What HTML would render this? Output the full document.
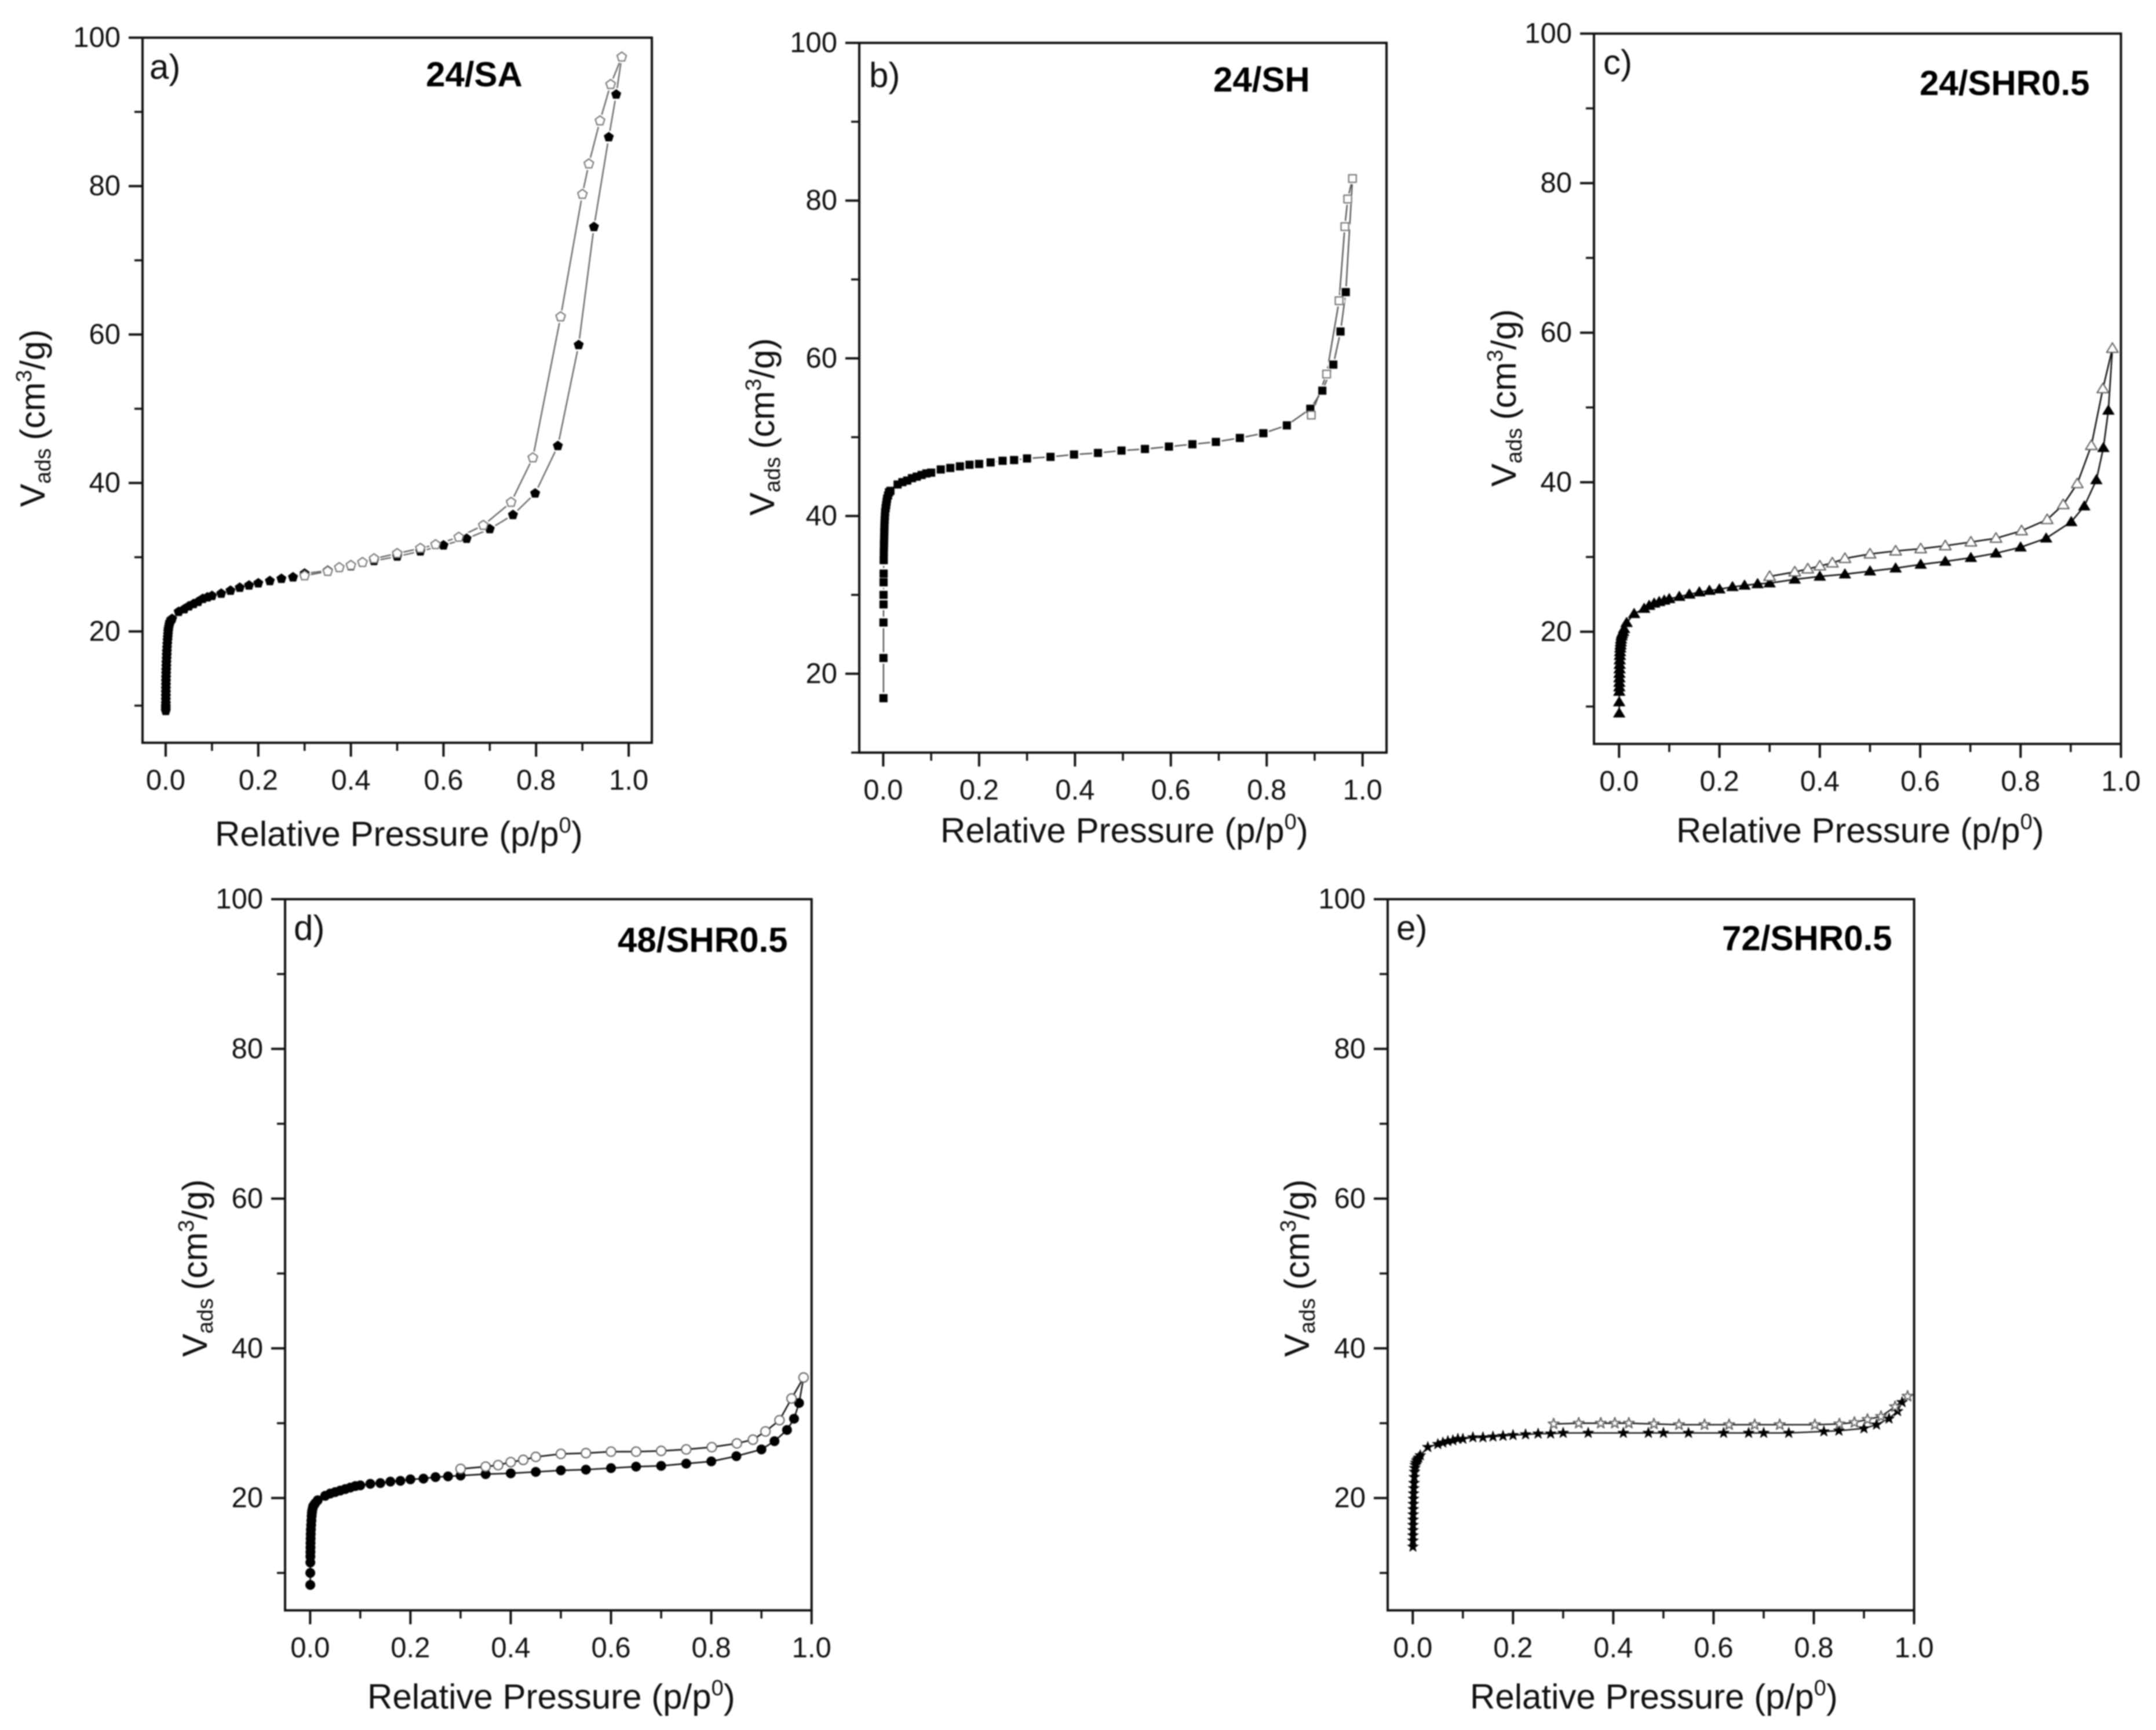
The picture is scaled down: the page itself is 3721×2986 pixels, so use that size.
<!DOCTYPE html>
<html lang="en">
<head>
<meta charset="utf-8">
<title>Nitrogen adsorption isotherms</title>
<style>
html,body{margin:0;padding:0;background:#fff;width:3721px;height:2986px;overflow:hidden}
svg{display:block;filter:blur(1px)}
text{font-family:"Liberation Sans",sans-serif;fill:#111}
.tick{font-size:49px}
.axt{font-size:60px}
.sm{font-size:38px}
.ttl{font-size:60px;font-weight:bold;fill:#000}
.pl{font-size:60px}
</style>
</head>
<body>
<svg id="fig" xmlns="http://www.w3.org/2000/svg" width="3721" height="2986" viewBox="0 0 3721 2986">
<rect x="0" y="0" width="3721" height="2986" fill="#fff"/>

<g id="panel-a">
<text class="pl" x="258" y="136">a)</text>
<text class="ttl" x="735" y="149">24/SA</text>
<text class="axt" x="371" y="1460">Relative Pressure (p/p<tspan class="sm" dy="-23">0</tspan><tspan dy="23">)</tspan></text>
<text class="axt" transform="translate(77,875) rotate(-90)">V<tspan class="sm" dy="10">ads</tspan><tspan dy="-10" dx="14">(cm</tspan><tspan class="sm" dy="-23">3</tspan><tspan dy="23">/g)</tspan></text>
</g>

<g id="panel-b">
<text class="pl" x="1500" y="150">b)</text>
<text class="ttl" x="2094" y="158">24/SH</text>
<text class="axt" x="1623" y="1454">Relative Pressure (p/p<tspan class="sm" dy="-23">0</tspan><tspan dy="23">)</tspan></text>
<text class="axt" transform="translate(1336,890) rotate(-90)">V<tspan class="sm" dy="10">ads</tspan><tspan dy="-10" dx="14">(cm</tspan><tspan class="sm" dy="-23">3</tspan><tspan dy="23">/g)</tspan></text>
</g>

<g id="panel-c">
<text class="pl" x="2767" y="128">c)</text>
<text class="ttl" x="3313" y="164">24/SHR0.5</text>
<text class="axt" x="2893" y="1454">Relative Pressure (p/p<tspan class="sm" dy="-23">0</tspan><tspan dy="23">)</tspan></text>
<text class="axt" transform="translate(2616,840) rotate(-90)">V<tspan class="sm" dy="10">ads</tspan><tspan dy="-10" dx="14">(cm</tspan><tspan class="sm" dy="-23">3</tspan><tspan dy="23">/g)</tspan></text>
</g>

<g id="panel-d">
<text class="pl" x="507" y="1622">d)</text>
<text class="ttl" x="1066" y="1643">48/SHR0.5</text>
<text class="axt" x="634" y="2949">Relative Pressure (p/p<tspan class="sm" dy="-23">0</tspan><tspan dy="23">)</tspan></text>
<text class="axt" transform="translate(357,2342) rotate(-90)">V<tspan class="sm" dy="10">ads</tspan><tspan dy="-10" dx="14">(cm</tspan><tspan class="sm" dy="-23">3</tspan><tspan dy="23">/g)</tspan></text>
</g>

<g id="panel-e">
<text class="pl" x="2410" y="1622">e)</text>
<text class="ttl" x="2972" y="1640">72/SHR0.5</text>
<text class="axt" x="2537" y="2949">Relative Pressure (p/p<tspan class="sm" dy="-23">0</tspan><tspan dy="23">)</tspan></text>
<text class="axt" transform="translate(2259,2342) rotate(-90)">V<tspan class="sm" dy="10">ads</tspan><tspan dy="-10" dx="14">(cm</tspan><tspan class="sm" dy="-23">3</tspan><tspan dy="23">/g)</tspan></text>
</g>
</svg>

<script>
// Tick values
const xMajorTicks = [0, 0.2, 0.4, 0.6, 0.8, 1.0];
const xMinorTicks = [0.1, 0.3, 0.5, 0.7, 0.9];
const yMajorTicks = [20, 40, 60, 80, 100];
const yMinorTicks = [10, 30, 50, 70, 90];

// Panel a: 24/SA
const aAdsP = [.0002,.0002,.0002,.0003,.0003,.0004,.0004,.0005,.0006,.0007,.0008,.001,.0012,.0014,.0016,.002,.0023,.0026,.003,.0035,.004,.0045,.005,.0055,.006,.007,.008,.009,.011,.012,.014,.028,.04,.05,.06,.07,.08,.09,.1,.12,.14,.16,.18,.2,.225,.25,.275,.3,.35,.4,.45,.5,.55,.6,.65,.7,.75,.798,.847,.892,.925,.957,.973];
const aAdsV = [9.3,9.6,9.9,10.3,10.8,11.3,11.8,12.3,12.8,13.3,13.8,14.3,14.8,15.3,15.8,16.3,16.8,17.3,17.8,18.3,18.8,19.2,19.6,20,20.3,20.6,20.9,21.2,21.4,21.6,21.7,22.65,23,23.4,23.7,24,24.4,24.6,24.8,25.1,25.5,25.9,26.2,26.5,26.8,27.1,27.3,27.8,28.2,28.8,29.5,30.1,30.8,31.6,32.5,33.8,35.7,38.6,45,58.6,74.5,86.6,92.35];
const aDesP = [.985,.961,.938,.914,.9,.853,.793,.746,.686,.633,.583,.55,.5,.45,.425,.4,.375,.35,.3];
const aDesV = [97.4,93.7,88.8,83,78.9,62.4,43.4,37.4,34.3,32.7,31.7,31.2,30.5,29.8,29.3,28.9,28.6,28.1,27.5];

// Panel b: 24/SH
const bAdsP = [.0005,.0005,.0005,.0006,.0006,.0007,.0008,.001,.0012,.0014,.0016,.0018,.002,.0022,.0024,.0026,.003,.0035,.004,.005,.006,.007,.008,.01,.012,.015,.03,.04,.05,.06,.07,.08,.09,.1,.12,.14,.16,.18,.2,.224,.249,.273,.3,.349,.398,.448,.497,.546,.596,.645,.694,.744,.793,.842,.891,.916,.939,.954,.965];
const bAdsV = [16.9,22,26.5,28.8,30,31.6,32.7,34.4,35.4,36,36.5,37,37.5,38,38.5,39,39.5,40,40.5,41,41.4,41.8,42.2,42.6,43,43.2,44,44.3,44.5,44.8,45,45.2,45.4,45.5,45.9,46.1,46.3,46.5,46.6,46.8,47,47.1,47.3,47.5,47.8,48,48.3,48.5,48.8,49.1,49.4,49.9,50.5,51.5,53.6,55.9,59.2,63.4,68.4];
const bDesP = [.979,.969,.963,.951,.925,.893];
const bDesV = [82.8,80.2,76.7,67.3,58,52.8];

// Panel c: 24/SHR0.5
const cAdsP = [.0003,.0003,.0004,.0005,.0006,.0007,.0008,.001,.0012,.0014,.0017,.002,.0025,.003,.0035,.004,.005,.006,.008,.01,.015,.03,.05,.06,.07,.08,.09,.1,.12,.14,.16,.18,.2,.226,.25,.276,.3,.35,.4,.45,.5,.551,.601,.65,.701,.751,.8,.851,.901,.927,.951,.965,.975];
const cAdsV = [9.1,10.6,12,12.6,13.2,13.8,14.4,15,15.6,16.2,16.8,17.3,17.8,18.2,18.6,19,19.4,19.7,20,20.4,21.2,22.4,23.1,23.5,23.8,24,24.2,24.4,24.7,25,25.3,25.5,25.7,26,26.2,26.4,26.5,27,27.4,27.7,28.1,28.5,29,29.4,29.9,30.5,31.3,32.5,34.7,36.8,40.3,44.6,49.6];
const cDesP = [.983,.964,.941,.913,.885,.853,.802,.751,.701,.65,.601,.551,.5,.45,.425,.4,.376,.35,.3];
const cDesV = [57.9,52.5,44.9,39.8,37,35,33.5,32.5,32,31.5,31.1,30.8,30.4,29.8,29.2,28.8,28.4,28,27.4];

// Panel d: 48/SHR0.5
const dAdsP = [.0003,.0003,.0004,.0005,.0006,.0007,.0008,.001,.0012,.0015,.002,.0025,.003,.0035,.004,.005,.006,.008,.01,.015,.03,.04,.05,.06,.07,.08,.09,.1,.12,.14,.16,.18,.2,.226,.25,.275,.3,.35,.4,.45,.5,.55,.6,.65,.7,.75,.8,.85,.9,.926,.951,.965,.975];
const dAdsV = [8.4,10,11.4,12.2,12.8,13.4,14,14.6,15.2,15.8,16.4,17,17.6,18,18.3,18.6,18.9,19.1,19.3,19.7,20.3,20.6,20.8,21,21.2,21.4,21.6,21.7,21.9,22,22.2,22.3,22.5,22.6,22.8,22.9,23,23.2,23.3,23.5,23.7,23.8,24,24.2,24.3,24.6,24.9,25.6,26.5,27.6,29.1,30.6,32.7];
const dDesP = [.984,.96,.936,.908,.883,.851,.801,.75,.7,.65,.6,.55,.5,.45,.425,.4,.375,.35,.3];
const dDesV = [36.1,33.3,30.4,28.9,27.8,27.3,26.8,26.5,26.3,26.2,26.2,26,25.9,25.5,25.1,24.8,24.4,24.2,23.9];

// Panel e: 72/SHR0.5
const eAdsP = [.0003,.0003,.0004,.0005,.0006,.0007,.0008,.001,.0012,.0014,.0016,.002,.0025,.003,.0035,.004,.005,.006,.008,.01,.012,.015,.03,.05,.06,.07,.08,.09,.1,.12,.14,.16,.18,.2,.225,.25,.275,.3,.35,.42,.47,.5,.55,.62,.67,.7,.75,.82,.85,.9,.925,.95,.967,.976];
const eAdsV = [13.5,14.3,15,15.7,16.4,17.1,17.8,18.5,19.2,19.9,20.6,21.3,22,22.8,23.5,24,24.4,24.7,25,25.2,25.4,25.7,26.8,27.2,27.4,27.6,27.7,27.9,27.9,28.1,28.1,28.2,28.3,28.4,28.5,28.6,28.6,28.7,28.7,28.7,28.7,28.7,28.7,28.7,28.7,28.7,28.7,28.9,29,29.3,29.8,30.6,31.6,32.8];
const eDesP = [.987,.962,.934,.907,.881,.851,.802,.732,.682,.631,.582,.531,.481,.431,.403,.375,.331,.281];
const eDesV = [33.6,32.2,30.9,30.5,30.1,29.9,29.8,29.8,29.8,29.8,29.8,29.8,29.9,30,30,30,30,29.9];

const SVGNS = 'http://www.w3.org/2000/svg';

function make(tag, parent, attrs) {
  const el = document.createElementNS(SVGNS, tag);
  for (const k in attrs) el.setAttribute(k, attrs[k]);
  parent.appendChild(el);
  return el;
}

function linearScale(d0, d1, r0, r1) {
  return function (v) { return r0 + (v - d0) / (d1 - d0) * (r1 - r0); };
}

function shapePoints(kind, r) {
  const pts = [];
  if (kind === 'square') {
    const s = r * 0.82;
    return [[-s,-s],[s,-s],[s,s],[-s,s]];
  }
  if (kind === 'triangle') {
    return [[0,-r],[r*1.05,r*0.72],[-r*1.05,r*0.72]];
  }
  if (kind === 'pentagon') {
    for (let i = 0; i < 5; i++) {
      const a = -Math.PI / 2 + i * 2 * Math.PI / 5;
      pts.push([r * Math.cos(a), r * Math.sin(a)]);
    }
    return pts;
  }
  if (kind === 'star') {
    for (let i = 0; i < 10; i++) {
      const a = -Math.PI / 2 + i * Math.PI / 5;
      const rr = i % 2 ? r * 0.45 : r * 1.15;
      pts.push([rr * Math.cos(a), rr * Math.sin(a)]);
    }
    return pts;
  }
  return pts;
}

function drawMarker(parent, kind, cx, cy, r, fill, stroke, sw) {
  if (kind === 'circle') {
    return make('circle', parent, {cx: cx, cy: cy, r: r, fill: fill, stroke: stroke, 'stroke-width': sw});
  }
  const p = shapePoints(kind, r).map(function (q) { return (cx + q[0]).toFixed(1) + ',' + (cy + q[1]).toFixed(1); }).join(' ');
  return make('polygon', parent, {points: p, fill: fill, stroke: stroke, 'stroke-width': sw, 'stroke-linejoin': 'round'});
}

function drawPanel(cfg) {
  const g = document.getElementById(cfg.id);
  const sx = linearScale(cfg.xd[0], cfg.xd[1], cfg.L, cfg.R);
  const sy = linearScale(cfg.yd[0], cfg.yd[1], cfg.B, cfg.T);

  // Series lines: the adsorption branch runs on to the top of the desorption branch
  const adsLine = cfg.adsP.map(function (p, i) { return sx(p).toFixed(1) + ',' + sy(cfg.adsV[i]).toFixed(1); });
  adsLine.push(sx(cfg.desP[0]).toFixed(1) + ',' + sy(cfg.desV[0]).toFixed(1));
  const desLine = cfg.desP.map(function (p, i) { return sx(p).toFixed(1) + ',' + sy(cfg.desV[i]).toFixed(1); });

  const l1 = make('polyline', g, {points: adsLine.join(' '), fill: 'none', stroke: cfg.lineColor, 'stroke-width': cfg.lineWidth});
  
  
  const l2 = make('polyline', g, {points: desLine.join(' '), fill: 'none', stroke: cfg.lineColor, 'stroke-width': cfg.lineWidth});
  
  

  // White gap around symbols
  if (cfg.halo > 0) {
    cfg.adsP.forEach(function (p, i) {
      make('circle', g, {cx: sx(p), cy: sy(cfg.adsV[i]), r: cfg.halo, fill: '#fff'});
    });
    cfg.desP.forEach(function (p, i) {
      make('circle', g, {cx: sx(p), cy: sy(cfg.desV[i]), r: cfg.halo, fill: '#fff'});
    });
  }

  cfg.adsP.forEach(function (p, i) {
    const m = drawMarker(g, cfg.kind, sx(p), sy(cfg.adsV[i]), cfg.r, '#000', '#000', 1);
    
    
  });
  cfg.desP.forEach(function (p, i) {
    const m = drawMarker(g, cfg.kind, sx(p), sy(cfg.desV[i]), cfg.r, '#fff', cfg.openStroke, 2.2);
    
    
  });

  // Frame
  const frame = make('rect', g, {x: cfg.L, y: cfg.T, width: cfg.R - cfg.L, height: cfg.B - cfg.T, fill: 'none', stroke: '#111', 'stroke-width': 4});
  
  

  // X axis ticks
  xMajorTicks.forEach(function (v) {
    const x = sx(v);
    const t = make('line', g, {x1: x, x2: x, y1: cfg.B, y2: cfg.B + 24, stroke: '#111', 'stroke-width': 4});
    
    
    const lb = make('text', g, {x: x, y: cfg.B + 81, 'text-anchor': 'middle', class: 'tick'});
    
    
    lb.textContent = v.toFixed(1);
  });
  xMinorTicks.forEach(function (v) {
    const x = sx(v);
    const t = make('line', g, {x1: x, x2: x, y1: cfg.B, y2: cfg.B + 14, stroke: '#111', 'stroke-width': 3.5});
    
    
  });

  // Y axis ticks
  yMajorTicks.forEach(function (v) {
    const y = sy(v);
    const t = make('line', g, {x1: cfg.L - 24, x2: cfg.L, y1: y, y2: y, stroke: '#111', 'stroke-width': 4});
    
    
    const lb = make('text', g, {x: cfg.L - 38, y: y + 16, 'text-anchor': 'end', class: 'tick'});
    
    
    lb.textContent = String(v);
  });
  yMinorTicks.forEach(function (v) {
    if (v < cfg.yd[0]) return;
    const y = sy(v);
    const t = make('line', g, {x1: cfg.L - 14, x2: cfg.L, y1: y, y2: y, stroke: '#111', 'stroke-width': 3.5});
    
    
  });
}

drawPanel({id: 'panel-a', L: 246, R: 1125, T: 65, B: 1282, xd: [-0.05, 1.05], yd: [5, 100], kind: 'pentagon', r: 8.5, halo: 11, lineColor: '#666', lineWidth: 2.4, openStroke: '#777', adsP: aAdsP, adsV: aAdsV, desP: aDesP, desV: aDesV});
drawPanel({id: 'panel-b', L: 1483, R: 2393, T: 74, B: 1299, xd: [-0.05, 1.05], yd: [10, 100], kind: 'square', r: 8, halo: 10, lineColor: '#555', lineWidth: 2.4, openStroke: '#777', adsP: bAdsP, adsV: bAdsV, desP: bDesP, desV: bDesV});
drawPanel({id: 'panel-c', L: 2751, R: 3660.5, T: 58, B: 1284, xd: [-0.05, 1.0], yd: [5, 100], kind: 'triangle', r: 9.5, halo: 0, lineColor: '#111', lineWidth: 2.6, openStroke: '#666', adsP: cAdsP, adsV: cAdsV, desP: cDesP, desV: cDesV});
drawPanel({id: 'panel-d', L: 492, R: 1400.7, T: 1552, B: 2779.5, xd: [-0.05, 1.0], yd: [5, 100], kind: 'circle', r: 8, halo: 0, lineColor: '#111', lineWidth: 2.6, openStroke: '#666', adsP: dAdsP, adsV: dAdsV, desP: dDesP, desV: dDesV});
drawPanel({id: 'panel-e', L: 2395, R: 3303.5, T: 1552, B: 2779.5, xd: [-0.05, 1.0], yd: [5, 100], kind: 'star', r: 8.5, halo: 0, lineColor: '#111', lineWidth: 2.4, openStroke: '#666', adsP: eAdsP, adsV: eAdsV, desP: eDesP, desV: eDesV});
</script>
</body>
</html>
